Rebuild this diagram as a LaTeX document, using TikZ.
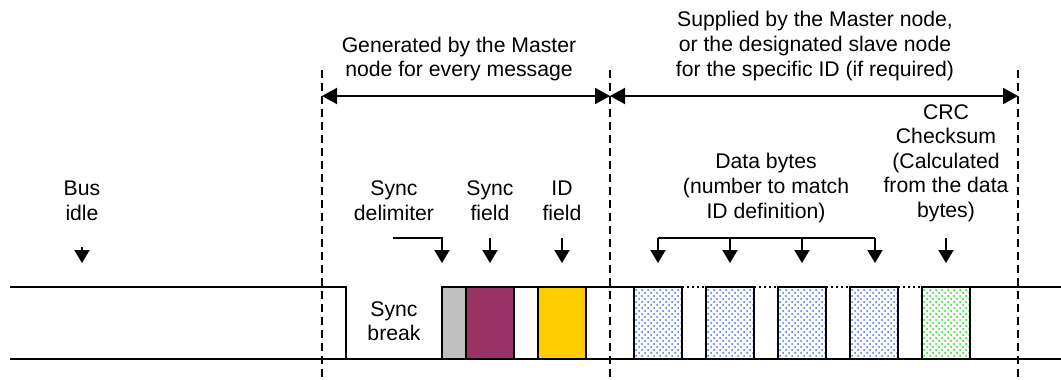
\documentclass[tikz,border=0pt]{standalone}
\usepackage{fontspec}
\setmainfont{Liberation Sans}
\usepackage{xcolor}
\definecolor{linGray}{HTML}{C0C0C0}
\definecolor{linPurple}{HTML}{993366}
\definecolor{linYellow}{HTML}{FFCC00}
\definecolor{linDots}{HTML}{3A6DFF}
\definecolor{linGreen}{HTML}{10E010}
\usetikzlibrary{arrows.meta,patterns,positioning}
\tikzset{
    field/.style={
        draw=black,
        rectangle,
        line width=1pt,
        minimum width=24pt,
        minimum height=36pt,
        inner sep=0pt,
        outer sep=0pt
    },
    delim/.style={
        field,
        minimum width=12pt,
        fill=linGray
    },
    databyte/.style={
        field,
        pattern=crosshatch dots,
        pattern color=linDots
    },
    crcbyte/.style={
        field,
        pattern=crosshatch dots,
        pattern color=linGreen
    },
    caption/.style={
        align=center,
        inner sep=0pt,
        font=\fontsize{10.6}{12.3}\selectfont
    },
    wire/.style={
        line width=1pt,
        color=black
    },
    gapwire/.style={
        line width=1pt,
        dash pattern=on 1pt off 1.5pt
    },
    pointer/.style={
        -{Triangle[length=6.5pt,width=7.5pt]},
        line width=1pt
    },
    span/.style={
        {Triangle[length=7.5pt,width=8pt]}-{Triangle[length=7.5pt,width=8pt]},
        line width=1pt
    },
    border/.style={
        line width=0.8pt,
        dash pattern=on 4pt off 2.5pt
    }
}

\begin{document}
\begin{tikzpicture}[x=0.5pt,y=-0.5pt]
    \useasboundingbox (0,0) rectangle (1061,380);

    % Frame borders
    \foreach \name/\x in {hdrStart/322,hdrEnd/610,rspEnd/1018} {
        \coordinate (\name) at (\x,70);
        \coordinate (\name Low) at (\x,380);
        \draw[border] (\name) -- (\name Low);
    }
    \coordinate (hdrMid) at (322,96);
    \coordinate (hdrMidEnd) at (610,96);
    \coordinate (rspMid) at (1018,96);
    \draw[span] (hdrMid) -- (hdrMidEnd);
    \draw[span] (hdrMidEnd) -- (rspMid);
    \node[caption] (hdrText) at (459,59) {Generated by the Master\\node for every message};
    \node[caption] (rspText) at (815,46) {Supplied by the Master node,\\or the designated slave node\\for the specific ID (if required)};

    % Fields
    \node[delim, anchor=north west] (delimiter) at (442,287) {};
    \node[field, fill=linPurple, right=0pt of delimiter] (syncField) {};
    \node[field, fill=linYellow, right=12pt of syncField] (idField) {};
    \node[databyte, right=24pt of idField] (byte1) {};
    \foreach \i [evaluate=\i as \prev using int(\i-1)] in {2,...,4}
        \node[databyte, right=12pt of byte\prev] (byte\i) {};
    \node[crcbyte, right=12pt of byte4] (checksum) {};

    % Bus lines
    \coordinate (idleStart) at (10,287);
    \coordinate (breakTop) at (346,287);
    \coordinate (breakLow) at (346,359);
    \coordinate (lowStart) at (10,359);
    \coordinate (lowEnd) at (1061,359);
    \coordinate (busEnd) at (1061,287);
    \draw[wire] (idleStart) -- (breakTop) -- (breakLow);
    \draw[wire] (lowStart) -- (lowEnd);
    \draw[wire] (syncField.north east) -- (idField.north west);
    \draw[wire] (idField.north east) -- (byte1.north west);
    \draw[gapwire] (byte1.north east) -- (byte2.north west);
    \draw[gapwire] (byte2.north east) -- (byte3.north west);
    \draw[gapwire] (byte3.north east) -- (byte4.north west);
    \draw[gapwire] (byte4.north east) -- (checksum.north west);
    \draw[wire] (checksum.north east) -- (busEnd);

    % Labels
    \node[caption] (idleText) at (82,201) {Bus\\idle};
    \node[caption] (breakText) at (394,321) {Sync\\break};
    \node[caption] (delimText) at (394,201) {Sync\\delimiter};
    \node[caption] (syncText) at (490,201) {Sync\\field};
    \node[caption] (idText) at (562,201) {ID\\field};
    \node[caption] (dataText) at (766,188) {Data bytes\\(number to match\\ID definition)};
    \node[caption] (crcText) at (946,163) {CRC\\Checksum\\(Calculated\\from the data\\bytes)};

    % Pointers
    \coordinate (idleTop) at (82,247);
    \coordinate (idleTip) at (82,263);
    \draw[pointer] (idleTop) -- (idleTip);
    \coordinate (delimTop) at (393,238);
    \coordinate (delimTip) at (442,263);
    \draw[pointer] (delimTop) -| (delimTip);
    \coordinate (syncTop) at (490,238);
    \coordinate (syncTip) at (490,263);
    \draw[pointer] (syncTop) -- (syncTip);
    \coordinate (idTop) at (562,238);
    \coordinate (idTip) at (562,263);
    \draw[pointer] (idTop) -- (idTip);
    \coordinate (dataLeft) at (658,238);
    \coordinate (dataRight) at (875,238);
    \draw[wire] (dataLeft) -- (dataRight);
    \foreach \i/\x in {1/658,2/730,3/802,4/875} {
        \coordinate (dataTop\i) at (\x,238);
        \coordinate (dataTip\i) at (\x,263);
        \draw[pointer] (dataTop\i) -- (dataTip\i);
    }
    \coordinate (crcTop) at (946,238);
    \coordinate (crcTip) at (946,263);
    \draw[pointer] (crcTop) -- (crcTip);
\end{tikzpicture}
\end{document}
